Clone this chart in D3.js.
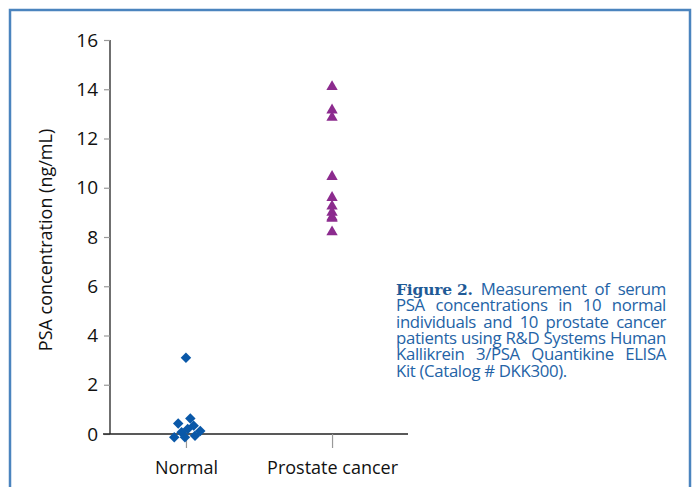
<!DOCTYPE html>
<html>
<head>
<meta charset="utf-8">
<script src="https://cdn.jsdelivr.net/npm/d3@7"></script>
<style>
  html, body { margin: 0; padding: 0; background: #fff; }
  svg { display: block; }
</style>
</head>
<body>
<svg id="chart" width="692" height="487"></svg>
<script>
// Groups on the x axis
const categories = ["Normal", "Prostate cancer"];

// Serum PSA (ng/mL), normal individuals
const normalValues = [3.1, 0.63, 0.43, 0.34, 0.2, 0.12, 0.07, -0.13, -0.13, -0.07];
// Horizontal spread of the normal points, as a fraction of the category step
const normalJitter = [0, 0.03, -0.053, 0.053, 0.012, 0.098, -0.03, -0.08, -0.007, 0.062];

// Serum PSA (ng/mL), prostate cancer patients
const cancerValues = [14.1, 13.15, 12.85, 10.45, 9.6, 9.25, 9.0, 8.8, 8.75, 8.2];
const cancerJitter = [0, 0, 0, 0, 0, 0, 0, 0, 0, 0];

// y axis ticks
const yTicks = [0, 2, 4, 6, 8, 10, 12, 14, 16];

const yTitle = "PSA concentration (ng/mL)";
const captionLines = [
  ["Figure 2.", " Measurement of serum"],
  ["", "PSA concentrations in 10 normal"],
  ["", "individuals and 10 prostate cancer"],
  ["", "patients using R&D Systems Human"],
  ["", "Kallikrein 3/PSA Quantikine ELISA"],
  ["", "Kit (Catalog # DKK300)."]
];

const svg = d3.select("#chart");
const sans = "'Open Sans', 'Noto Sans', sans-serif";

// Frame around the figure
svg.append("path")
  .attr("d", "M10,495V10H690V495")
  .attr("fill", "none")
  .attr("stroke", "#4b84be")
  .attr("stroke-width", 2.5);

const y = d3.scaleLinear().domain([0, 16]).range([434, 40]);
const x = d3.scalePoint().domain(categories).range([110, 408]).padding(0.52);

// y axis
const yAxis = svg.append("g").attr("transform", "translate(110,0)")
  .call(d3.axisLeft(y).tickValues(yTicks).tickSize(6).tickPadding(6).tickFormat(d3.format("d")));
yAxis.select(".domain").attr("stroke", "#222").attr("stroke-width", 1.3).attr("d", `M0,${y(16)}V${y(0)}`);
yAxis.selectAll(".tick line").attr("stroke", "#999").attr("stroke-width", 1.2);
yAxis.selectAll(".tick text")
  .attr("font-family", sans).attr("font-size", 19).attr("fill", "#111");

// x axis
const xAxis = svg.append("g").attr("transform", `translate(0,${y(0)})`)
  .call(d3.axisBottom(x).tickSize(14).tickPadding(13));
xAxis.select(".domain").attr("stroke", "#222").attr("stroke-width", 1.3).attr("d", `M103,0H408`);
xAxis.selectAll(".tick line").attr("stroke", "#999").attr("stroke-width", 1.2);
xAxis.selectAll(".tick text")
  .attr("font-family", sans).attr("font-size", 18).attr("fill", "#111");

// y axis title
svg.append("text")
  .attr("transform", `translate(52,${(y(16) + y(0)) / 2 + 3}) rotate(-90)`)
  .attr("text-anchor", "middle")
  .attr("font-family", sans).attr("font-size", 18).attr("fill", "#111")
  .text(yTitle);

const step = x.step();

// Normal individuals: blue diamonds
svg.append("g").selectAll("path")
  .data(normalValues.map((v, i) => ({ v, j: normalJitter[i] })))
  .join("path")
  .attr("d", d3.symbol(d3.symbolDiamond2, 70))
  .attr("transform", d => `translate(${x("Normal") + d.j * step},${y(d.v)})`)
  .attr("fill", "#0a58a8");

// Prostate cancer patients: purple triangles
svg.append("g").selectAll("path")
  .data(cancerValues.map((v, i) => ({ v, j: cancerJitter[i] })))
  .join("path")
  .attr("d", d3.symbol(d3.symbolTriangle, 56))
  .attr("transform", d => `translate(${x("Prostate cancer") + d.j * step},${y(d.v)})`)
  .attr("fill", "#8c2b8e");

// Caption block, justified to a fixed width except for the last line
const capLeft = 396, capWidth = 270, capTop = 295, capLead = 16.35;
const cap = svg.append("g").attr("fill", "#2463a6");
captionLines.forEach((parts, i) => {
  const t = cap.append("text")
    .attr("x", capLeft)
    .attr("y", capTop + i * capLead)
    .attr("font-family", sans)
    .attr("font-size", 16.8)
    .attr("letter-spacing", -0.35);
  if (parts[0]) {
    t.append("tspan")
      .attr("font-family", "'DejaVu Serif', 'Liberation Serif', serif")
      .attr("font-weight", "bold")
      .attr("font-size", 15.5)
      .attr("letter-spacing", -0.2)
      .attr("fill", "#1f5a96")
      .text(parts[0]);
  }
  const body = t.append("tspan").text(parts[1]);
  if (i < captionLines.length - 1) {
    const natural = t.node().getComputedTextLength();
    const spaces = (parts[1].match(/ /g) || []).length;
    if (spaces > 0) body.attr("word-spacing", (capWidth - natural) / spaces);
  }
});
</script>
</body>
</html>
